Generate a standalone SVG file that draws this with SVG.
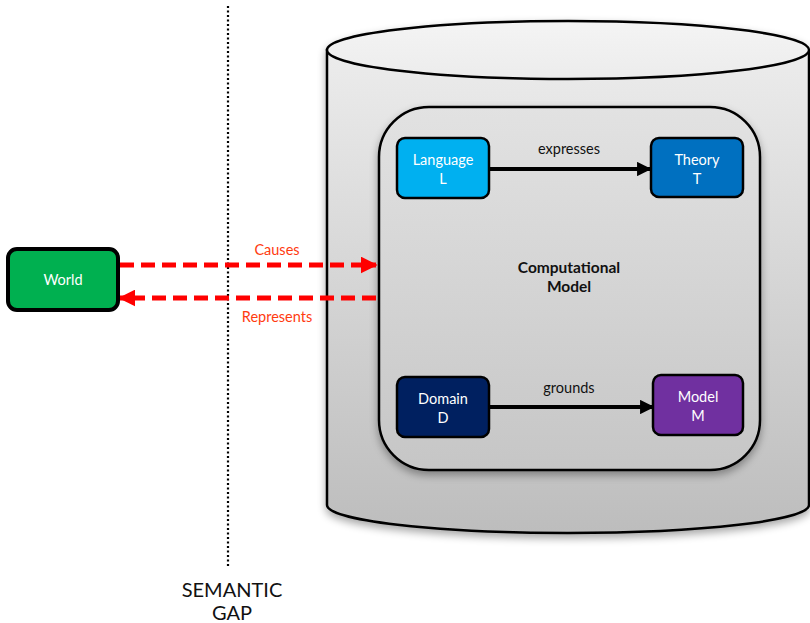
<svg xmlns="http://www.w3.org/2000/svg" width="810" height="623" viewBox="0 0 810 623">
  <defs>
    <linearGradient id="cylBody" x1="0" y1="0" x2="0" y2="1">
      <stop offset="0" stop-color="#ececec"/>
      <stop offset="1" stop-color="#bdbdbd"/>
    </linearGradient>
    <linearGradient id="cylTop" x1="0" y1="0" x2="0" y2="1">
      <stop offset="0" stop-color="#f4f4f4"/>
      <stop offset="1" stop-color="#ececec"/>
    </linearGradient>
    <linearGradient id="inner" x1="0" y1="0" x2="0" y2="1">
      <stop offset="0" stop-color="#e2e2e2"/>
      <stop offset="1" stop-color="#c6c6c6"/>
    </linearGradient>
    <filter id="shadow" x="-10%" y="-10%" width="120%" height="125%">
      <feGaussianBlur in="SourceAlpha" stdDeviation="4"/>
      <feOffset dx="0" dy="4" result="b"/>
      <feComponentTransfer><feFuncA type="linear" slope="0.35"/></feComponentTransfer>
      <feMerge><feMergeNode/><feMergeNode in="SourceGraphic"/></feMerge>
    </filter>
    <marker id="blackHead" viewBox="0 0 10 10" refX="9" refY="5" markerWidth="3.6" markerHeight="3.6" orient="auto" markerUnits="strokeWidth">
      <path d="M0,0 L10,5 L0,10 z" fill="#000"/>
    </marker>
    <marker id="redHead" viewBox="0 0 10 10" refX="9" refY="5" markerWidth="3.4" markerHeight="3.4" orient="auto" markerUnits="strokeWidth">
      <path d="M0,0 L10,5 L0,10 z" fill="#ff0000"/>
    </marker>
    <style>
      text { font-family: "Lato", "Open Sans", "Liberation Sans", sans-serif; }
      .node { stroke: #000; stroke-width: 2.5; }
      .lbl { fill: #fff; font-size: 14.5px; text-anchor: middle; }
      .edgeLbl { fill: #111; font-size: 14.5px; text-anchor: middle; }
      .redLbl { fill: #ff3b10; font-size: 14.5px; text-anchor: middle; }
      .solid { stroke: #000; stroke-width: 4; fill: none; }
      .dash { stroke: #ff0000; stroke-width: 5; fill: none; stroke-dasharray: 14 7; }
    </style>
  </defs>

  <!-- semantic gap divider -->
  <line x1="228" y1="6" x2="228" y2="568" stroke="#000" stroke-width="2.2" stroke-dasharray="2 2.5"/>
  <text x="232" y="597" font-size="20" text-anchor="middle" fill="#111">SEMANTIC</text>
  <text x="232" y="620" font-size="20" text-anchor="middle" fill="#111">GAP</text>

  <!-- database cylinder -->
  <g id="database" filter="url(#shadow)">
    <path d="M327,50 L327,505 A241,28 0 0 0 809,505 L809,50 Z" fill="url(#cylBody)" stroke="#000" stroke-width="2.5"/>
    <ellipse cx="568" cy="50" rx="241" ry="29" fill="url(#cylTop)" stroke="#000" stroke-width="2.5"/>
  </g>

  <!-- computational model container -->
  <g id="computational-model">
    <rect x="379" y="107" width="381" height="363" rx="50" ry="50" fill="url(#inner)" stroke="#000" stroke-width="2.5" filter="url(#shadow)"/>
    <text x="569" y="273" font-size="15.5" font-weight="bold" text-anchor="middle" fill="#111">Computational</text>
    <text x="569" y="292" font-size="15.5" font-weight="bold" text-anchor="middle" fill="#111">Model</text>
  </g>

  <!-- connectors -->
  <g id="connectors">
    <line class="solid" x1="489" y1="169" x2="650" y2="169" marker-end="url(#blackHead)"/>
    <text class="edgeLbl" x="569" y="154">expresses</text>
    <line class="solid" x1="489" y1="407" x2="653" y2="407" marker-end="url(#blackHead)"/>
    <text class="edgeLbl" x="569" y="393">grounds</text>
    <line class="dash" x1="120" y1="265" x2="376" y2="265" marker-end="url(#redHead)"/>
    <text class="redLbl" x="277" y="255">Causes</text>
    <line class="dash" x1="376" y1="298" x2="120" y2="298" marker-end="url(#redHead)"/>
    <text class="redLbl" x="277" y="322">Represents</text>
  </g>

  <g id="world">
    <rect x="8" y="249" width="110" height="61" rx="9" fill="#00b050" stroke="#000" stroke-width="4"/>
    <text class="lbl" x="63" y="285">World</text>
  </g>

  <g id="language">
    <rect class="node" x="397" y="138" width="92" height="60" rx="8" fill="#00b0f0"/>
    <text class="lbl" x="443" y="165">Language</text>
    <text class="lbl" x="443" y="184">L</text>
  </g>

  <g id="theory">
    <rect class="node" x="651" y="138" width="92" height="59" rx="8" fill="#0070c0"/>
    <text class="lbl" x="697" y="165">Theory</text>
    <text class="lbl" x="697" y="184">T</text>
  </g>

  <g id="domain">
    <rect class="node" x="397" y="377" width="92" height="60" rx="8" fill="#002060"/>
    <text class="lbl" x="443" y="404">Domain</text>
    <text class="lbl" x="443" y="423">D</text>
  </g>

  <g id="model">
    <rect class="node" x="653" y="375" width="90" height="60" rx="8" fill="#7030a0"/>
    <text class="lbl" x="698" y="402">Model</text>
    <text class="lbl" x="698" y="421">M</text>
  </g>
</svg>
